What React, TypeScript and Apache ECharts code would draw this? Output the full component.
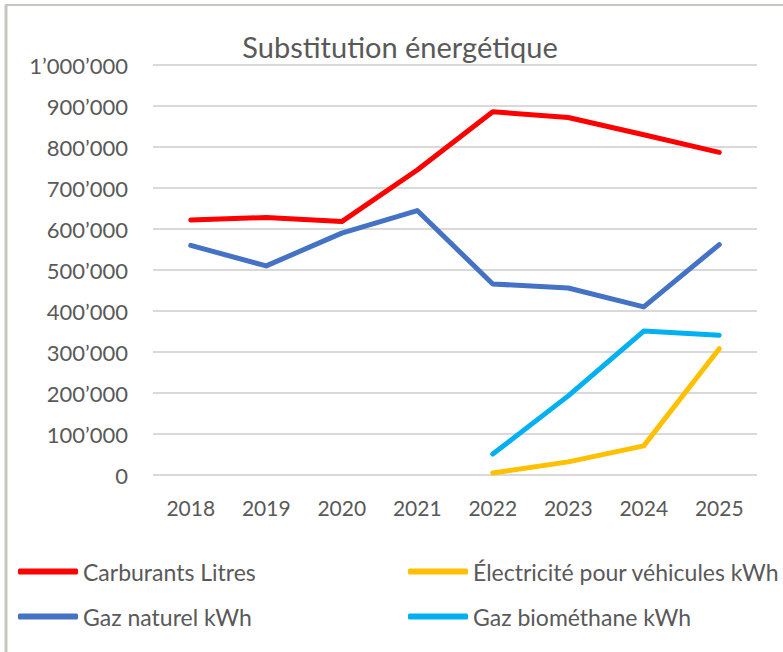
import React, { useEffect, useRef } from "react";
import * as echarts from "echarts";

const years = ["2018", "2019", "2020", "2021", "2022", "2023", "2024", "2025"];
const carburants = [622000, 628000, 618000, 744000, 886000, 872000, 830000, 787000];
const gazNaturel = [560000, 510000, 590000, 645000, 466000, 456000, 410000, 562000];
const electricite = [null, null, null, null, 5000, 32000, 71000, 308000];
const biomethane = [null, null, null, null, 51000, 193000, 351000, 341000];

const FONT = "Lato";
const TEXT = "#595959";

function fmt(v: number) {
  return String(v).replace(/\B(?=(\d{3})+(?!\d))/g, "\u2019");
}

export default function App() {
  const ref = useRef<HTMLDivElement>(null);
  useEffect(() => {
    const chart = echarts.init(ref.current!, null, { renderer: "svg" });
    const mk = (name: string, data: (number | null)[], color: string) => ({
      name,
      type: "line",
      data,
      showSymbol: false,
      symbol: "none",
      lineStyle: { color, width: 5, cap: "round", join: "round" },
      itemStyle: { color },
      z: 3,
    });
    const legendText = { fontFamily: FONT, fontSize: 23, color: TEXT, lineHeight: 23 };
    chart.setOption({
      animation: false,
      backgroundColor: "#ffffff",
      title: {
        text: "Substitution énergétique",
        left: 395,
        textAlign: "center",
        top: 27,
        textStyle: { fontFamily: FONT, fontSize: 29, fontWeight: "normal", color: TEXT },
      },
      graphic: [
        { type: "line", shape: { x1: 5, y1: 5, x2: 783, y2: 5 }, style: { stroke: "#c8c6c0", lineWidth: 2 } },
        { type: "line", shape: { x1: 6, y1: 5, x2: 6, y2: 652 }, style: { stroke: "#c8c6c0", lineWidth: 3 } },
      ],
      grid: { left: 153, right: 26, top: 65, bottom: 177 },
      xAxis: {
        type: "category",
        data: years,
        boundaryGap: true,
        axisLine: { show: false },
        axisTick: { show: false },
        axisLabel: { fontFamily: FONT, fontSize: 21, color: TEXT, margin: 22 },
      },
      yAxis: {
        type: "value",
        min: 0,
        max: 1000000,
        interval: 100000,
        axisLine: { show: false },
        axisTick: { show: false },
        splitLine: { lineStyle: { color: "#d9d9d9", width: 2 } },
        axisLabel: { fontFamily: FONT, fontSize: 22, color: TEXT, margin: 25, formatter: (v: number) => fmt(v) },
      },
      legend: [
        {
          data: ["Carburants Litres", "Gaz naturel kWh"],
          orient: "vertical",
          left: 13,
          top: 555,
          itemWidth: 60,
          itemHeight: 6,
          itemGap: 22,
          icon: "roundRect",
          textStyle: legendText,
        },
        {
          data: ["Électricité pour véhicules kWh", "Gaz biométhane kWh"],
          orient: "vertical",
          left: 403,
          top: 555,
          itemWidth: 60,
          itemHeight: 6,
          itemGap: 22,
          icon: "roundRect",
          textStyle: legendText,
        },
      ],
      series: [
        mk("Carburants Litres", carburants, "#ff0000"),
        mk("Électricité pour véhicules kWh", electricite, "#ffc000"),
        mk("Gaz naturel kWh", gazNaturel, "#4472c4"),
        mk("Gaz biométhane kWh", biomethane, "#00b0f0"),
      ],
    });
    return () => chart.dispose();
  }, []);
  return (
    <div
      ref={ref}
      style={{ position: "absolute", left: 0, top: 0, width: 783, height: 652 }}
    />
  );
}
